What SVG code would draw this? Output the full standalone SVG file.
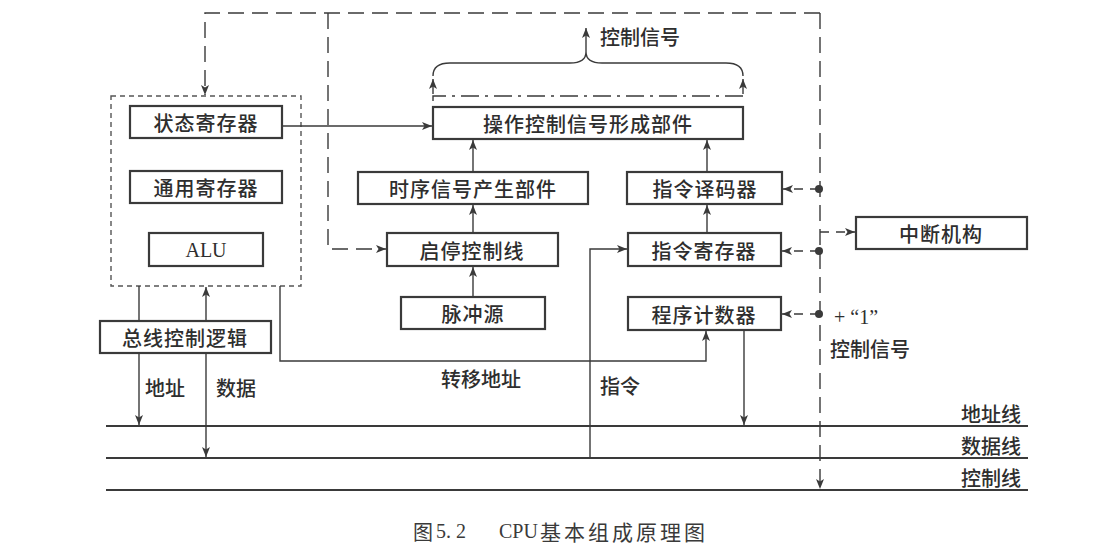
<svg xmlns="http://www.w3.org/2000/svg" width="1112" height="552" viewBox="0 0 1112 552">
<style>
.box{fill:none;stroke:#3a3a3a;stroke-width:2.2}
.t{font-family:"Noto Sans CJK SC","Noto Sans",sans-serif;font-size:20px;font-weight:500;letter-spacing:1px;fill:#2e2e2e;text-anchor:middle;dominant-baseline:central}
.tl{font-family:"Noto Sans CJK SC","Noto Sans",sans-serif;font-size:20px;font-weight:500;fill:#2e2e2e;dominant-baseline:central}
.ser{font-family:"Liberation Serif","Noto Sans CJK SC",serif;font-size:20px;fill:#2e2e2e;dominant-baseline:central}
.cap{font-family:"Noto Sans CJK SC","Noto Sans",sans-serif;font-size:20px;fill:#3a3a3a;dominant-baseline:central}
.ln{fill:none;stroke:#3a3a3a;stroke-width:1.4}
.dash{fill:none;stroke:#3a3a3a;stroke-width:1.4;stroke-dasharray:16 8}
.dot{fill:none;stroke:#555;stroke-width:1.4;stroke-dasharray:5 4}
.dd{fill:none;stroke:#3a3a3a;stroke-width:1.4;stroke-dasharray:18 6 3 6}
.sd{fill:none;stroke:#3a3a3a;stroke-width:1.4;stroke-dasharray:9 7}
.bus{fill:none;stroke:#3a3a3a;stroke-width:1.8}
</style>
<defs>
<marker id="ar" markerWidth="10" markerHeight="8" refX="10" refY="4" orient="auto" markerUnits="userSpaceOnUse">
<path d="M0,0 L10,4 L0,8 L2.5,4 Z" fill="#3a3a3a"/>
</marker>
</defs>
<rect width="1112" height="552" fill="#ffffff"/>

<g id="bus-lines">
<line class="bus" x1="106" y1="426" x2="1028" y2="426"/>
<line class="bus" x1="106" y1="458" x2="1028" y2="458"/>
<line class="bus" x1="106" y1="490" x2="1028" y2="490"/>
<text class="tl" x="961" y="413">地址线</text>
<text class="tl" x="961" y="445">数据线</text>
<text class="tl" x="961" y="477">控制线</text>
</g>

<g id="regs-group">
<rect class="dot" x="111" y="96" width="190" height="190"/>
</g>
<g id="status-reg"><rect class="box" x="130" y="106" width="152" height="32"/><text class="t" x="206" y="122">状态寄存器</text></g>
<g id="general-reg"><rect class="box" x="130" y="171" width="152" height="32"/><text class="t" x="206" y="187">通用寄存器</text></g>
<g id="alu"><rect class="box" x="149" y="233" width="114" height="33"/><text class="ser" x="206" y="250" text-anchor="middle">ALU</text></g>
<g id="bus-ctrl"><rect class="box" x="100" y="321" width="171" height="32"/><text class="t" x="185" y="337">总线控制逻辑</text></g>
<g id="op-ctrl"><rect class="box" x="433" y="107" width="310" height="32"/><text class="t" x="588" y="123">操作控制信号形成部件</text></g>
<g id="timing"><rect class="box" x="358" y="172" width="230" height="32"/><text class="t" x="473" y="188">时序信号产生部件</text></g>
<g id="decoder"><rect class="box" x="627" y="172" width="155" height="32"/><text class="t" x="705" y="188">指令译码器</text></g>
<g id="startstop"><rect class="box" x="387" y="233" width="171" height="33"/><text class="t" x="472" y="250">启停控制线</text></g>
<g id="ir"><rect class="box" x="628" y="233" width="153" height="33"/><text class="t" x="704" y="250">指令寄存器</text></g>
<g id="interrupt"><rect class="box" x="856" y="217" width="171" height="32"/><text class="t" x="941" y="233">中断机构</text></g>
<g id="pulse"><rect class="box" x="401" y="297" width="144" height="32"/><text class="t" x="473" y="313">脉冲源</text></g>
<g id="pc"><rect class="box" x="628" y="297" width="153" height="33"/><text class="t" x="704" y="314">程序计数器</text></g>

<g id="connectors">
<path class="ln" d="M282,126 H432" marker-end="url(#ar)"/>
<path class="ln" d="M473,172 V140" marker-end="url(#ar)"/>
<path class="ln" d="M707,172 V140" marker-end="url(#ar)"/>
<path class="ln" d="M473,233 V205" marker-end="url(#ar)"/>
<path class="ln" d="M473,297 V267" marker-end="url(#ar)"/>
<path class="ln" d="M707,233 V205" marker-end="url(#ar)"/>
<path class="ln" d="M590,458 V249 H627" marker-end="url(#ar)"/>
<path class="ln" d="M280,286 V361 H706 V331" marker-end="url(#ar)"/>
<path class="ln" d="M744,330 V425" marker-end="url(#ar)"/>
<path class="ln" d="M139,286 V321"/>
<path class="ln" d="M139,353 V425" marker-end="url(#ar)"/>
<path class="ln" d="M206,321 V287" marker-end="url(#ar)"/>
<path class="ln" d="M206,353 V457" marker-end="url(#ar)"/>

<path class="dash" d="M820,13 H205 V95" marker-end="url(#ar)"/>
<path class="dash" d="M820,13 V489" marker-end="url(#ar)"/>
<path class="dash" d="M328,13 V249 H386" marker-end="url(#ar)"/>
<path class="sd" d="M820,232 H855" marker-end="url(#ar)"/>

<path class="sd" d="M819,189 H783" marker-end="url(#ar)"/>
<path class="sd" d="M819,251 H782" marker-end="url(#ar)"/>
<path class="sd" d="M819,314 H782" marker-end="url(#ar)"/>
<circle cx="819" cy="189" r="4" fill="#3a3a3a"/>
<circle cx="819" cy="251" r="4" fill="#3a3a3a"/>
<circle cx="819" cy="314" r="4" fill="#3a3a3a"/>

<path class="dd" d="M433,101 V96 H743 V101"/>
<path class="ln" d="M433,94 V79" marker-end="url(#ar)"/>
<path class="ln" d="M743,94 V79" marker-end="url(#ar)"/>
<path class="ln" d="M433,76 Q433,63 450,63 H570 Q586,63 586,52 Q586,63 602,63 H726 Q743,63 743,76"/>
<path class="ln" d="M586,52 V28" marker-end="url(#ar)"/>
</g>

<g id="labels">
<text class="tl" x="600" y="36">控制信号</text>
<text class="tl" x="145" y="387">地址</text>
<text class="tl" x="216" y="387">数据</text>
<text class="tl" x="441" y="378">转移地址</text>
<text class="tl" x="600" y="385">指令</text>
<text class="ser" x="834" y="317">+ “1”</text>
<text class="tl" x="830" y="348">控制信号</text>
<text class="cap" y="531"><tspan x="413">图</tspan><tspan x="436" font-family="Liberation Serif, serif">5. 2</tspan><tspan x="499" font-family="Liberation Serif, serif">CPU</tspan><tspan x="540" font-size="21" letter-spacing="3">基本组成原理图</tspan></text>
</g>
</svg>
